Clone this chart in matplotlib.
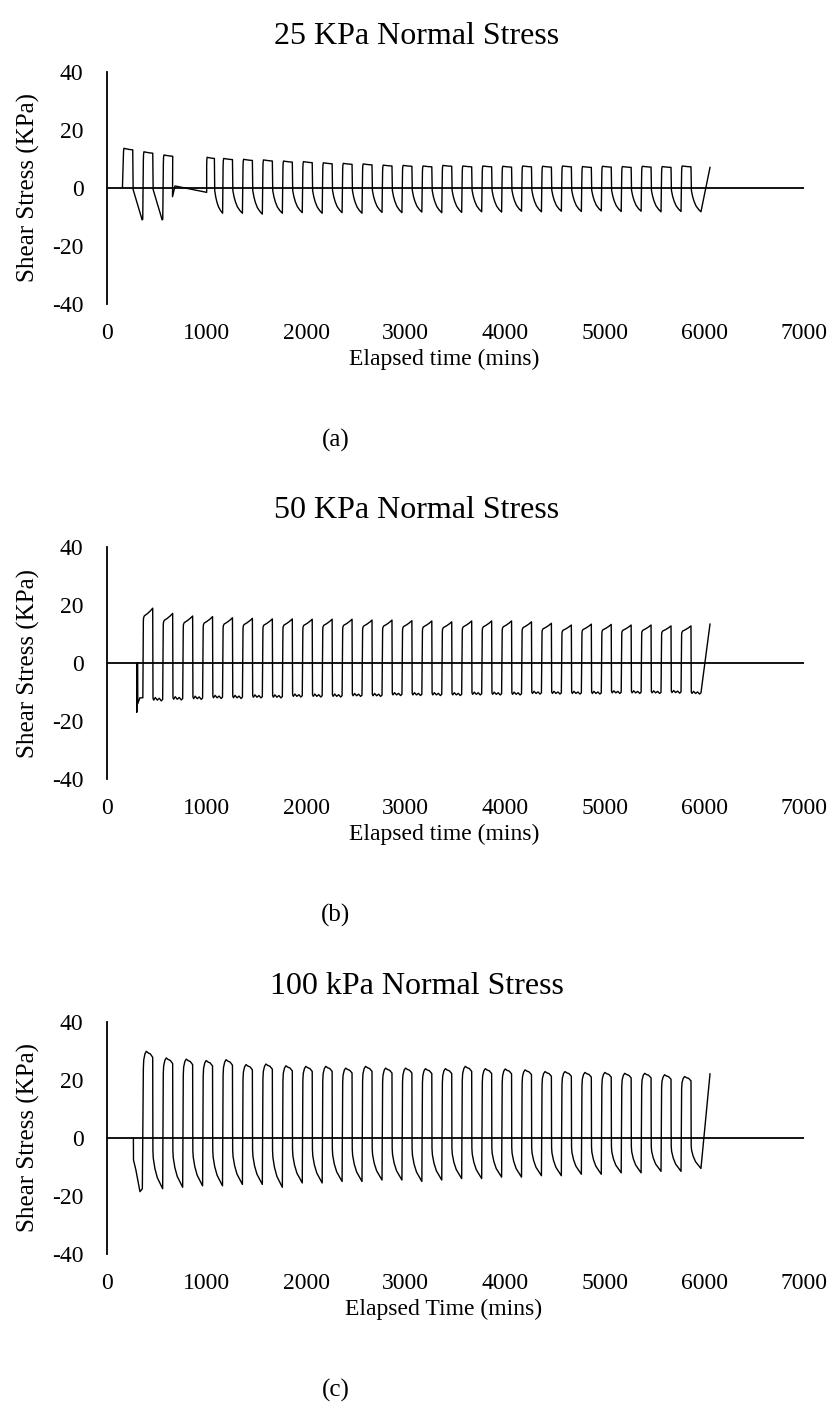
import numpy as np
import matplotlib.pyplot as plt

plt.rcParams['font.family'] = ['Liberation Serif', 'DejaVu Serif']
plt.rcParams['axes.unicode_minus'] = False

# start of each forward (positive) shear stroke, mins
cycle_start = [365, 565, 766, 966, 1166, 1366, 1566, 1767, 1967, 2167,
               2367, 2567, 2768, 2968, 3168, 3368, 3568, 3769, 3969, 4169,
               4369, 4569, 4770, 4970, 5170, 5370, 5570, 5771]

# ---- 25 kPa ----
a_early_start = [164, 365, 566]
a_early_peak = [13.7, 12.5, 11.4]
a_early_trough = [-11.0, -11.0, None]
a_gap_t = [658, 683, 1001]
a_gap_s = [-3.0, 0.7, -1.5]
a_start = [1001] + cycle_start[4:]
a_peak = [10.6, 10.2, 9.9, 9.7, 9.3, 9.1, 8.7, 8.5, 8.3, 7.9, 7.8, 7.6, 7.8,
          7.6, 7.6, 7.5, 7.6, 7.5, 7.6, 7.4, 7.5, 7.4, 7.5, 7.4, 7.6]
a_trough = [-8.7, -8.7, -9.0, -8.7, -8.5, -8.7, -8.5, -8.7, -8.4, -8.5, -8.3,
            -8.5, -8.4, -8.2, -8.3, -8.0, -8.2, -8.0, -8.1, -7.9, -8.1, -8.0,
            -8.2, -8.1, -8.2]
a_end = (6056, 7.1)

# ---- 50 kPa ----
b_lead_t = [298, 299, 301, 308, 309, 330, 360]
b_lead_s = [0.0, -17.0, 0.0, 0.0, -14.0, -12.0, -12.0]
b_peak = [18.9, 17.1, 16.2, 16.0, 15.6, 15.4, 15.2, 15.2, 15.1, 15.1, 15.1,
          14.8, 14.8, 14.6, 14.5, 14.2, 14.5, 14.5, 14.5, 14.2, 13.7, 13.1,
          13.4, 13.3, 13.1, 13.1, 12.8, 12.8]
b_trough = [-12.8, -12.5, -12.3, -12.0, -12.0, -11.8, -11.8, -11.5, -11.5,
            -11.5, -11.3, -11.3, -11.0, -11.0, -11.0, -11.0, -10.8, -10.8,
            -10.8, -10.5, -10.5, -10.5, -10.5, -10.3, -10.3, -10.3, -10.2,
            -10.5]
b_end = (6056, 13.4)

# ---- 100 kPa ----
c_lead_t = [265, 266, 290, 331, 355]
c_lead_s = [0.0, -7.6, -11.0, -18.5, -17.5]
c_peak = [29.9, 27.6, 27.2, 26.7, 27.0, 25.3, 25.5, 24.9, 24.7, 24.7, 24.1,
          24.7, 24.1, 24.1, 23.9, 23.9, 24.7, 23.9, 23.8, 23.5, 22.9, 22.9,
          22.6, 22.6, 22.3, 22.3, 21.8, 21.2]
c_trough = [-17.5, -17.0, -16.5, -16.5, -16.0, -16.0, -17.0, -15.5, -15.5,
            -15.0, -15.0, -14.5, -14.5, -15.0, -14.5, -14.0, -14.0, -13.5,
            -13.5, -13.0, -13.0, -12.5, -12.5, -12.0, -12.0, -11.5, -11.5,
            -10.5]
c_end = (6056, 22.1)

# stroke profiles: (fraction of cycle, fraction of peak / trough)
up_a = [(0.0, 0.75), (0.01, 0.92), (0.03, 1.0), (0.1, 0.99), (0.3, 0.97), (0.47, 0.96)]
down_a = [(0.49, -0.1), (0.55, -0.35), (0.62, -0.55), (0.72, -0.75), (0.85, -0.9), (0.97, -1.0)]
down_a_early = [(0.49, -0.05), (0.94, -1.0), (0.97, -0.98)]
up_b = [(0.0, 0.76), (0.01, 0.82), (0.05, 0.86), (0.2, 0.9), (0.35, 0.95), (0.47, 1.0)]
down_b = [(0.485, -0.95), (0.52, -1.0), (0.6, -0.93), (0.7, -1.0), (0.8, -0.95), (0.9, -1.02), (0.97, -0.98)]
up_c = [(0.0, 0.8), (0.02, 0.9), (0.08, 0.97), (0.15, 1.0), (0.25, 0.98), (0.35, 0.97), (0.47, 0.93)]
down_c = [(0.48, -0.25), (0.5, -0.4), (0.58, -0.6), (0.7, -0.78), (0.85, -0.9), (0.97, -1.0)]


def cycles(starts, peaks, troughs, up, down, period=200):
    t, s = [], []
    for i, (t0, p, q) in enumerate(zip(starts, peaks, troughs)):
        span = (starts[i + 1] if i + 1 < len(starts) else t0 + period) - t0
        for f, v in up:
            t.append(t0 + f * span)
            s.append(v * p)
        if q is None:
            continue
        for f, v in down:
            t.append(t0 + f * span)
            s.append(-v * q)
    return t, s


def trace(parts):
    t, s = [], []
    for pt, ps in parts:
        t += list(pt)
        s += list(ps)
    return np.array(t), np.array(s)


ta, sa = trace([([155], [0.0]),
                cycles(a_early_start, a_early_peak, a_early_trough, up_a, down_a_early),
                (a_gap_t, a_gap_s),
                cycles(a_start, a_peak, a_trough, up_a, down_a),
                ([a_end[0]], [a_end[1]])])
tb, sb = trace([(b_lead_t, b_lead_s),
                cycles(cycle_start, b_peak, b_trough, up_b, down_b),
                ([b_end[0]], [b_end[1]])])
tc, sc = trace([(c_lead_t, c_lead_s),
                cycles(cycle_start, c_peak, c_trough, up_c, down_c),
                ([c_end[0]], [c_end[1]])])

W, H = 834, 1405
fig = plt.figure(figsize=(W / 100, H / 100), dpi=100)

panels = [
    (ta, sa, 304, '25 KPa Normal Stress', 'Elapsed time (mins)', '(a)'),
    (tb, sb, 779, '50 KPa Normal Stress', 'Elapsed time (mins)', '(b)'),
    (tc, sc, 1254, '100 kPa Normal Stress', 'Elapsed Time (mins)', '(c)'),
]

for t, s, bottom_px, title, xlab, tag in panels:
    top_px = bottom_px - 232
    ax = fig.add_axes([107 / W, 1 - bottom_px / H, 697 / W, 232 / H])
    ax.plot(t, s, color='black', lw=1.0)
    ax.axhline(0, color='black', lw=1.3)
    ax.set_xlim(0, 7000)
    ax.set_ylim(-40, 40)
    ax.set_xticks(np.arange(0, 7001, 1000))
    ax.set_yticks(np.arange(-40, 41, 20))
    for side in ['top', 'right', 'bottom']:
        ax.spines[side].set_visible(False)
    ax.spines['left'].set_linewidth(1.3)
    ax.tick_params(axis='both', length=0, labelsize=17)
    ax.tick_params(axis='x', pad=14)
    ax.tick_params(axis='y', pad=17)

    fig.text(417 / W, 1 - (top_px - 36) / H, title, ha='center', va='center', fontsize=23)
    fig.text(28 / W, 1 - (bottom_px - 116) / H, 'Shear Stress (KPa)', rotation=90,
             ha='center', va='center', fontsize=18)
    fig.text(444 / W, 1 - (bottom_px + 55) / H, xlab, ha='center', va='center', fontsize=17)
    fig.text(336 / W, 1 - (bottom_px + 136) / H, tag, ha='center', va='center', fontsize=18)

fig.savefig('out.png', dpi=100)
